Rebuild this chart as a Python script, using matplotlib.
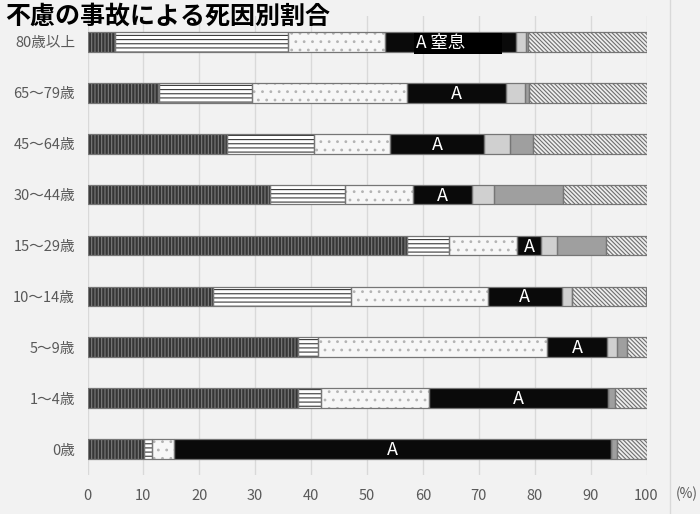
import matplotlib
matplotlib.use("Agg")
import matplotlib.pyplot as plt
import numpy as np

plt.rcParams['font.family'] = ['Noto Sans CJK JP', 'DejaVu Sans']
plt.rcParams['hatch.linewidth'] = 0.8

# Categories (top to bottom)
categories = ["80歳以上", "65～79歳", "45～64歳", "30～44歳", "15～29歳",
              "10～14歳", "5～9歳", "1～4歳", "0歳"]

# Segment shares (%) per category, left to right
seg1 = [4.9, 12.8, 24.9, 32.6, 57.1, 22.4, 37.6, 37.6, 10.1]
seg2 = [30.9, 16.7, 15.7, 13.5, 7.6, 24.7, 3.6, 4.1, 1.5]
seg3 = [17.5, 27.7, 13.5, 12.1, 12.2, 24.6, 41.0, 19.4, 3.8]
seg4 = [23.4, 17.6, 16.9, 10.6, 4.3, 13.1, 10.8, 32.1, 78.2]   # A: 窒息
seg5 = [1.7, 3.4, 4.5, 3.9, 2.7, 1.8, 1.7, 0.0, 0.0]
seg6 = [0.4, 0.8, 4.2, 12.4, 8.8, 0.0, 1.9, 1.2, 1.2]
seg7 = [21.2, 21.0, 20.3, 14.9, 7.3, 13.4, 3.4, 5.6, 5.2]

a_labels = ["A 窒息", "A", "A", "A", "A", "A", "A", "A", "A"]
x_ticks = [0, 10, 20, 30, 40, 50, 60, 70, 80, 90, 100]

series = [seg1, seg2, seg3, seg4, seg5, seg6, seg7]
styles = [
    dict(fc="#363636", hc="#7c7c7c", hatch="|||||"),
    dict(fc="#ffffff", hc="#3a3a3a", hatch="----"),
    dict(fc="#f7f7f7", hc="#b4b4b4", hatch=".."),
    dict(fc="#0a0a0a", hc="#0a0a0a", hatch=None),
    dict(fc="#d0d0d0", hc="#d0d0d0", hatch=None),
    dict(fc="#9f9f9f", hc="#9f9f9f", hatch=None),
    dict(fc="#eeeeee", hc="#6e6e6e", hatch="\\\\\\\\\\\\\\\\"),
]

bg = "#f2f2f2"
fig = plt.figure(figsize=(7.0, 5.14), dpi=100, facecolor=bg)
ax = fig.add_axes([87.5 / 700, 39.3 / 514, 559 / 700, 458.4 / 514])
ax.set_facecolor(bg)

y = np.arange(len(categories))
bar_h = 0.39
left = np.zeros(len(categories))
for vals, st in zip(series, styles):
    vals = np.array(vals)
    ax.barh(y, vals, left=left, height=bar_h, color=st["fc"],
            edgecolor=st["hc"], linewidth=0, hatch=st["hatch"], zorder=2)
    ax.barh(y, vals, left=left, height=bar_h, fill=False,
            edgecolor="#767676", linewidth=0.9, zorder=3)
    left += vals

# "A" labels centred in black segment
s4_left = np.array(seg1) + np.array(seg2) + np.array(seg3)
for i, lab in enumerate(a_labels):
    if i == 0:
        ax.text(s4_left[i] + 5.5, y[i] + 0.03, lab + "\u3000\u3000", color="white",
                fontsize=12.5, ha="left", va="center", zorder=5,
                bbox=dict(boxstyle="square,pad=0.1", fc="black", ec="none"))
    else:
        ax.text(s4_left[i] + seg4[i] / 2, y[i] + 0.02, lab, color="white",
                fontsize=13, ha="center", va="center", zorder=5)

ax.set_xlim(0, 100)
ax.set_ylim(len(categories) - 0.5, -0.5)
ax.set_xticks(x_ticks)
ax.set_xticklabels([str(t) for t in x_ticks])
ax.set_yticks(y)
ax.set_yticklabels(categories)
ax.tick_params(axis="both", length=0, labelsize=10.5, colors="#595959")
ax.tick_params(axis="x", pad=10)
ax.tick_params(axis="y", pad=9)
ax.grid(axis="x", color="#d9d9d9", linewidth=1, zorder=0)
ax.set_axisbelow(True)
for sp in ax.spines.values():
    sp.set_visible(False)

fig.text(5 / 700, 1 - 5 / 514, "不慮の事故による死因別割合", fontsize=18,
         fontweight="bold", ha="left", va="top", color="black")
fig.text(698 / 700, 1 - 494 / 514, "(%)", fontsize=10, color="#595959",
         ha="right", va="center")
fig.add_artist(plt.Line2D([670 / 700, 670 / 700], [0, 1], color="#d9d9d9",
                          linewidth=1, transform=fig.transFigure))

fig.savefig("out.png", dpi=100, facecolor=bg)
